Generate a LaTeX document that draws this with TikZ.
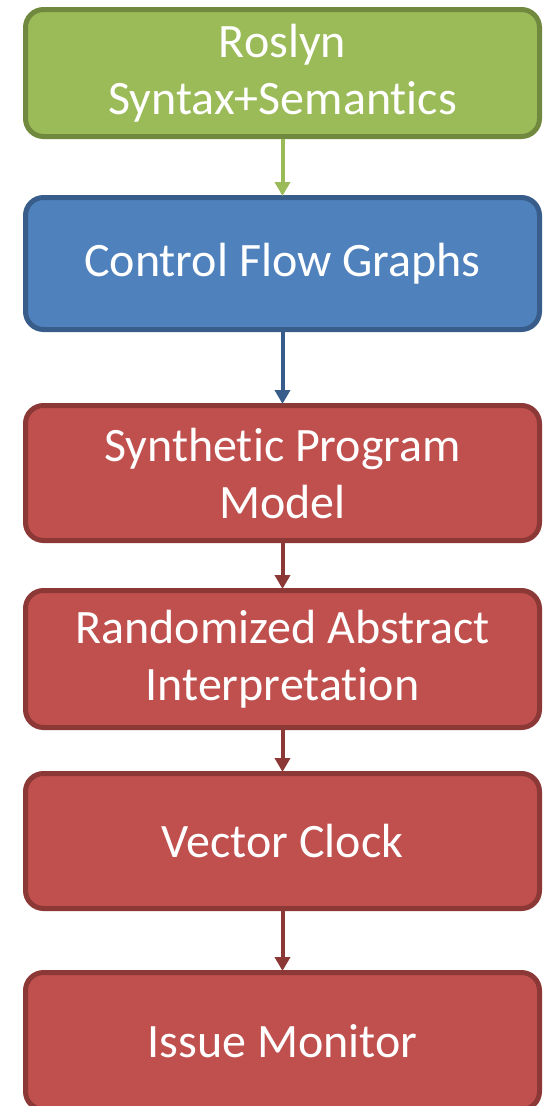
\documentclass[tikz,border=0pt]{standalone}
\usepackage{fontspec}
\setmainfont[Ligatures={NoCommon}]{Carlito}
\usetikzlibrary{arrows.meta}
\definecolor{gfill}{HTML}{9BBB59}
\definecolor{gline}{HTML}{71893F}
\definecolor{bfill}{HTML}{4F81BD}
\definecolor{bline}{HTML}{385D8A}
\definecolor{rfill}{HTML}{C0504D}
\definecolor{rline}{HTML}{8C3836}
\tikzset{
  stage/.style={rounded corners=18pt, line width=5pt, minimum width=514pt, inner sep=0pt,
    align=center, text=white, font=\fontsize{48}{57}\selectfont},
  gbox/.style={stage, fill=gfill, draw=gline},
  bbox/.style={stage, fill=bfill, draw=bline},
  rbox/.style={stage, fill=rfill, draw=rline},
  flow/.style={line width=4pt, -{Triangle[width=15pt,length=14pt]}, shorten >=-1pt}
}
\begin{document}
\begin{tikzpicture}[x=1pt,y=-1pt]
\useasboundingbox (0,0) rectangle (545,1106);
\node[gbox, minimum height=127pt] (roslyn) at (282.5,73) {Roslyn\\Syntax+Semantics};
\node[bbox, minimum height=132pt] (cfg) at (282.5,263.5) {Control Flow Graphs};
\node[rbox, minimum height=135pt] (spm) at (282.5,473) {Synthetic Program\\Model};
\node[rbox, minimum height=137pt] (rai) at (282.5,659) {Randomized Abstract\\Interpretation};
\node[rbox, minimum height=135pt] (vc) at (282.5,841) {Vector Clock};
\node[rbox, minimum height=137pt] (im) at (282.5,1041) {Issue Monitor};
\draw[flow, gfill] (roslyn.south) -- (cfg.north);
\draw[flow, bline] (cfg.south) -- (spm.north);
\draw[flow, rline] (spm.south) -- (rai.north);
\draw[flow, rline] (rai.south) -- (vc.north);
\draw[flow, rline] (vc.south) -- (im.north);
\end{tikzpicture}
\end{document}
